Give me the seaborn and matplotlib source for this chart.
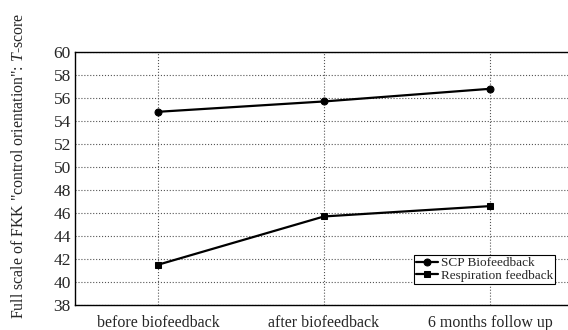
import numpy as np
import pandas as pd
import matplotlib
matplotlib.use("Agg")
import matplotlib.pyplot as plt
import seaborn as sns
from matplotlib.ticker import MultipleLocator

# data
phases = ["before biofeedback", "after biofeedback", "6 months follow up"]
scp_scores = [54.8, 55.7, 56.8]
resp_scores = [41.5, 45.7, 46.6]
group_names = ["SCP Biofeedback", "Respiration feedback"]

df = pd.DataFrame({
    "phase": phases * 2,
    "score": scp_scores + resp_scores,
    "group": [group_names[0]] * 3 + [group_names[1]] * 3,
})
df["pos"] = list(range(len(phases))) * 2

sns.set_style("white")
plt.rcParams["font.family"] = ["Liberation Serif", "DejaVu Serif"]
plt.rcParams["mathtext.fontset"] = "custom"
plt.rcParams["mathtext.it"] = "Liberation Serif:italic"
plt.rcParams["mathtext.rm"] = "Liberation Serif"

fig = plt.figure(figsize=(5.68, 3.30), dpi=100)
# the original is cropped on the right, so the axes run past the edge
ax = fig.add_axes([75 / 568, 25 / 330, 498 / 568, 253 / 330])

sns.lineplot(data=df, x="pos", y="score", hue="group", style="group",
             markers={group_names[0]: "o", group_names[1]: "s"}, dashes=False,
             palette=["black", "black"], linewidth=1.6, markersize=5,
             markeredgecolor="black", ax=ax)

ax.set_xlim(-0.5, 2.5)
ax.set_ylim(38, 60)
ax.set_xticks(range(len(phases)))
ax.set_xticklabels(phases, fontsize=11.5)
ax.yaxis.set_major_locator(MultipleLocator(2))
ax.yaxis.set_minor_locator(MultipleLocator(1))
ax.tick_params(axis="y", which="major", labelsize=12.5, direction="in",
               length=3, width=0.6, pad=3)
ax.tick_params(axis="y", which="minor", direction="in", length=2, width=0.6)
ax.tick_params(axis="x", length=0, pad=7)
ax.grid(True, which="major", linestyle=":", color="#555555", linewidth=0.8)
for s in ax.spines.values():
    s.set_color("black")
    s.set_linewidth(1.0)

ax.set_xlabel("")
ax.set_ylabel("")
fig.text(19 / 568, 1 - 166 / 330,
         'Full scale of FKK "control orientation": $T$-score',
         rotation=90, va="center", ha="center", fontsize=11.4)

leg = ax.legend(loc="lower right", bbox_to_anchor=(555 / 568, 1 - 284 / 330),
                bbox_transform=fig.transFigure, fontsize=9.5,
                frameon=True, fancybox=False, edgecolor="black",
                handlelength=1.7, handletextpad=0.2, borderpad=0.15,
                labelspacing=0.05, borderaxespad=0.0)
leg.get_frame().set_linewidth(0.8)
leg.get_frame().set_alpha(1)

fig.savefig("out.png", dpi=100)
